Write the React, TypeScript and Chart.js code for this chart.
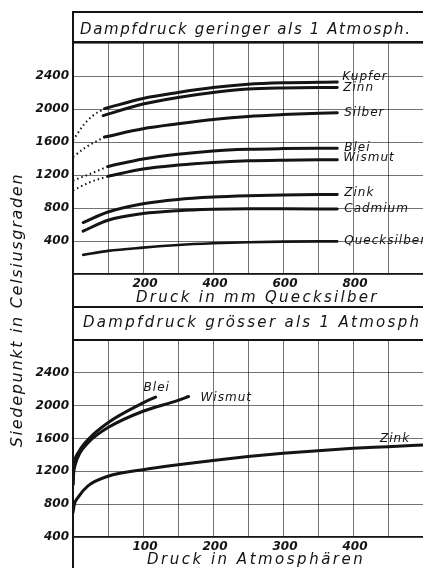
import React, { useEffect, useRef } from 'react';
import { Chart, registerables } from 'chart.js';

Chart.register(...registerables);

// ---- Upper panel: vapour pressure below 1 atmosphere (mm Hg -> °C)
const mmKupfer = [90, 200, 300, 400, 500, 600, 755];
const tKupfer = [2005, 2128, 2200, 2260, 2300, 2318, 2328];
const mmKupferDot = [0, 29, 57, 90];
const tKupferDot = [1620, 1800, 1920, 2005];
const mmZinn = [86, 200, 300, 400, 500, 600, 755];
const tZinn = [1920, 2060, 2140, 2200, 2242, 2256, 2262];
const mmSilber = [90, 200, 300, 400, 500, 600, 755];
const tSilber = [1660, 1760, 1820, 1872, 1910, 1932, 1955];
const mmSilberDot = [0, 38, 90];
const tSilberDot = [1420, 1540, 1660];
const mmBlei = [100, 200, 300, 400, 500, 600, 755];
const tBlei = [1304, 1395, 1452, 1492, 1512, 1520, 1525];
const mmBleiDot = [0, 48, 100];
const tBleiDot = [1132, 1212, 1304];
const mmWismut = [100, 200, 300, 400, 500, 600, 755];
const tWismut = [1184, 1272, 1320, 1352, 1372, 1380, 1385];
const mmWismutDot = [0, 48, 100];
const tWismutDot = [1012, 1112, 1184];
const mmZink = [29, 100, 200, 300, 400, 500, 600, 755];
const tZink = [624, 752, 852, 904, 932, 948, 958, 965];
const mmCadmium = [29, 100, 200, 300, 400, 500, 600, 755];
const tCadmium = [520, 652, 732, 768, 784, 790, 790, 788];
const mmQuecksilber = [29, 100, 200, 300, 400, 500, 600, 755];
const tQuecksilber = [232, 280, 320, 352, 372, 384, 392, 396];

// ---- Lower panel: vapour pressure above 1 atmosphere (atm -> °C)
const atmBlei = [0, 0.6, 2.5, 7.8, 22, 50, 100, 118];
const tBleiHoch = [1040, 1200, 1330, 1433, 1592, 1793, 2033, 2105];
const atmWismut = [0, 1, 3.5, 9, 22, 50, 100, 150, 165];
const tWismutHoch = [1040, 1180, 1290, 1410, 1553, 1733, 1932, 2064, 2112];
const atmZink = [0, 2, 7, 21, 50, 100, 150, 200, 250, 300, 350, 400, 450, 500];
const tZinkHoch = [700, 800, 880, 1020, 1140, 1220, 1280, 1332, 1380, 1420, 1452, 1480, 1500, 1522];

// ---- Tick labels
const mmTickLabels = [200, 400, 600, 800];
const atmTickLabels = [100, 200, 300, 400];
const tempTickLabels = [400, 800, 1200, 1600, 2000, 2400];

const FONT = '"DejaVu Sans", sans-serif';
const INK = '#141414';

const pts = (xs: number[], ys: number[]) => xs.map((x, i) => ({ x, y: ys[i] }));

const solid = (data: any, tag?: any, width = 3) => ({
  data,
  borderColor: INK,
  borderWidth: width,
  borderCapStyle: 'round',
  pointRadius: 0,
  cubicInterpolationMode: 'monotone',
  fill: false,
  tag,
});
const dotted = (data: any) => ({
  data,
  borderColor: INK,
  borderWidth: 2,
  borderDash: [1.5, 3],
  pointRadius: 0,
  cubicInterpolationMode: 'monotone',
  fill: false,
});

const seriesLabels = {
  id: 'seriesLabels',
  afterDatasetsDraw(chart: any) {
    const ctx = chart.ctx;
    chart.data.datasets.forEach((ds: any, i: number) => {
      if (!ds.tag) return;
      const meta = chart.getDatasetMeta(i);
      const idx = ds.tag.at ?? meta.data.length - 1;
      const p = meta.data[idx];
      ctx.save();
      ctx.font = `italic 12px ${FONT}`;
      (ctx as any).letterSpacing = '1px';
      ctx.fillStyle = INK;
      ctx.textAlign = 'left';
      ctx.textBaseline = 'middle';
      ctx.fillText(ds.tag.text, p.x + ds.tag.dx, p.y + ds.tag.dy);
      ctx.restore();
    });
  },
};

const tickFont = { family: FONT, size: 12, style: 'italic' as const, weight: 'bold' as const };
const gridColor = 'rgba(0,0,0,0.55)';

function scales(xMax: number, xStep: number, xLabels: number[], yMin: number, xAxisH: number) {
  return {
    x: {
      type: 'linear',
      min: 0,
      max: xMax,
      afterBuildTicks: (s: any) => {
        const t = [];
        for (let v = 0; v <= xMax; v += xStep) t.push({ value: v });
        s.ticks = t;
      },
      ticks: {
        autoSkip: false,
        maxRotation: 0,
        minRotation: 0,
        padding: 3,
        color: INK,
        font: tickFont,
        labelOffset: 2,
        callback: (v: number) => (xLabels.includes(v) ? String(v) : ''),
      },
      grid: { color: gridColor, lineWidth: 1, drawTicks: false },
      border: { display: true, color: INK, width: 1.5 },
      afterFit: (s: any) => {
        s.height = xAxisH;
        s.paddingLeft = 0;
        s.paddingRight = 0;
        s.paddingTop = 0;
        s.paddingBottom = 0;
      },
    },
    y: {
      type: 'linear',
      min: yMin,
      max: 2800,
      afterBuildTicks: (s: any) => {
        const t = [];
        for (let v = yMin; v <= 2800; v += 400) t.push({ value: v });
        s.ticks = t;
      },
      ticks: {
        autoSkip: false,
        padding: 4,
        color: INK,
        font: tickFont,
        callback: (v: number) => (tempTickLabels.includes(v) ? String(v) : ''),
      },
      grid: { color: gridColor, lineWidth: 1, drawTicks: false },
      border: { display: false },
      afterFit: (s: any) => {
        s.width = 73;
        s.paddingLeft = 0;
        s.paddingRight = 0;
        s.paddingTop = 0;
        s.paddingBottom = 0;
      },
    },
  };
}

function baseOptions(sc: any, padTop: number) {
  return {
    responsive: false,
    animation: false,
    devicePixelRatio: 1,
    layout: { padding: { top: padTop, left: 0, right: 0, bottom: 0 } },
    plugins: { legend: { display: false }, tooltip: { enabled: false }, title: { display: false } },
    scales: sc,
  };
}

const line = (top: number, h = 2, left = 72, w = 351): React.CSSProperties => ({
  position: 'absolute',
  left,
  top,
  width: w,
  height: h,
  background: INK,
});

const text = (left: number, top: number, size: number, ls: number): React.CSSProperties => ({
  position: 'absolute',
  left,
  top,
  fontSize: size,
  lineHeight: `${size}px`,
  letterSpacing: `${ls}px`,
  whiteSpace: 'nowrap',
  fontStyle: 'italic',
  fontFamily: FONT,
  color: INK,
});

export default function App() {
  const topRef = useRef<HTMLCanvasElement>(null);
  const botRef = useRef<HTMLCanvasElement>(null);

  useEffect(() => {
    const top = new Chart(topRef.current as HTMLCanvasElement, {
      type: 'line',
      data: {
        datasets: [
          dotted(pts(mmKupferDot, tKupferDot)),
          dotted(pts(mmSilberDot, tSilberDot)),
          dotted(pts(mmBleiDot, tBleiDot)),
          dotted(pts(mmWismutDot, tWismutDot)),
          solid(pts(mmKupfer, tKupfer), { text: 'Kupfer', dx: 5, dy: -5 }),
          solid(pts(mmZinn, tZinn), { text: 'Zinn', dx: 6, dy: 0 }),
          solid(pts(mmSilber, tSilber), { text: 'Silber', dx: 7, dy: 0 }),
          solid(pts(mmBlei, tBlei), { text: 'Blei', dx: 7, dy: 0 }),
          solid(pts(mmWismut, tWismut), { text: 'Wismut', dx: 6, dy: -2 }),
          solid(pts(mmZink, tZink), { text: 'Zink', dx: 7, dy: -2 }),
          solid(pts(mmCadmium, tCadmium), { text: 'Cadmium', dx: 7, dy: 0 }),
          solid(pts(mmQuecksilber, tQuecksilber), { text: 'Quecksilber', dx: 7, dy: 0 }, 2.6),
        ] as any,
      },
      options: baseOptions(scales(1000, 100, mmTickLabels, 0, 36), 3) as any,
      plugins: [seriesLabels],
    });
    const bot = new Chart(botRef.current as HTMLCanvasElement, {
      type: 'line',
      data: {
        datasets: [
          solid(pts(atmBlei, tBleiHoch), { text: 'Blei', dx: -12, dy: -9 }),
          solid(pts(atmWismut, tWismutHoch), { text: 'Wismut', dx: 12, dy: 1 }),
          solid(pts(atmZink, tZinkHoch), { text: 'Zink', dx: -8, dy: -8, at: 12 }),
        ] as any,
      },
      options: baseOptions(scales(500, 50, atmTickLabels, 400, 31), 2) as any,
      plugins: [seriesLabels],
    });
    return () => {
      top.destroy();
      bot.destroy();
    };
  }, []);

  return (
    <div
      style={{
        position: 'absolute',
        left: 0,
        top: 0,
        width: 423,
        height: 568,
        background: '#fff',
        overflow: 'hidden',
      }}
    >
      <canvas
        ref={topRef}
        width={423}
        height={270}
        style={{ position: 'absolute', left: 0, top: 40, width: 423, height: 270 }}
      />
      <canvas
        ref={botRef}
        width={423}
        height={230}
        style={{ position: 'absolute', left: 0, top: 338, width: 423, height: 230 }}
      />
      <div style={line(11)} />
      <div style={line(41)} />
      <div style={line(306)} />
      <div style={line(339)} />
      <div style={line(11, 557, 72, 2)} />
      <div style={text(80, 21.5, 15, 1.6)}>Dampfdruck geringer als 1 Atmosph.</div>
      <div style={text(136, 290, 15, 2.3)}>Druck in mm Quecksilber</div>
      <div style={text(83, 315, 15, 2.3)}>Dampfdruck grösser als 1 Atmosph</div>
      <div style={text(147, 551.5, 15, 2.5)}>Druck in Atmosphären</div>
      <div
        style={{
          ...text(17 - 150, 310 - 8, 16, 1.7),
          width: 300,
          textAlign: 'center',
          transform: 'rotate(-90deg)',
          transformOrigin: '150px 8px',
        }}
      >
        Siedepunkt in Celsiusgraden
      </div>
    </div>
  );
}
